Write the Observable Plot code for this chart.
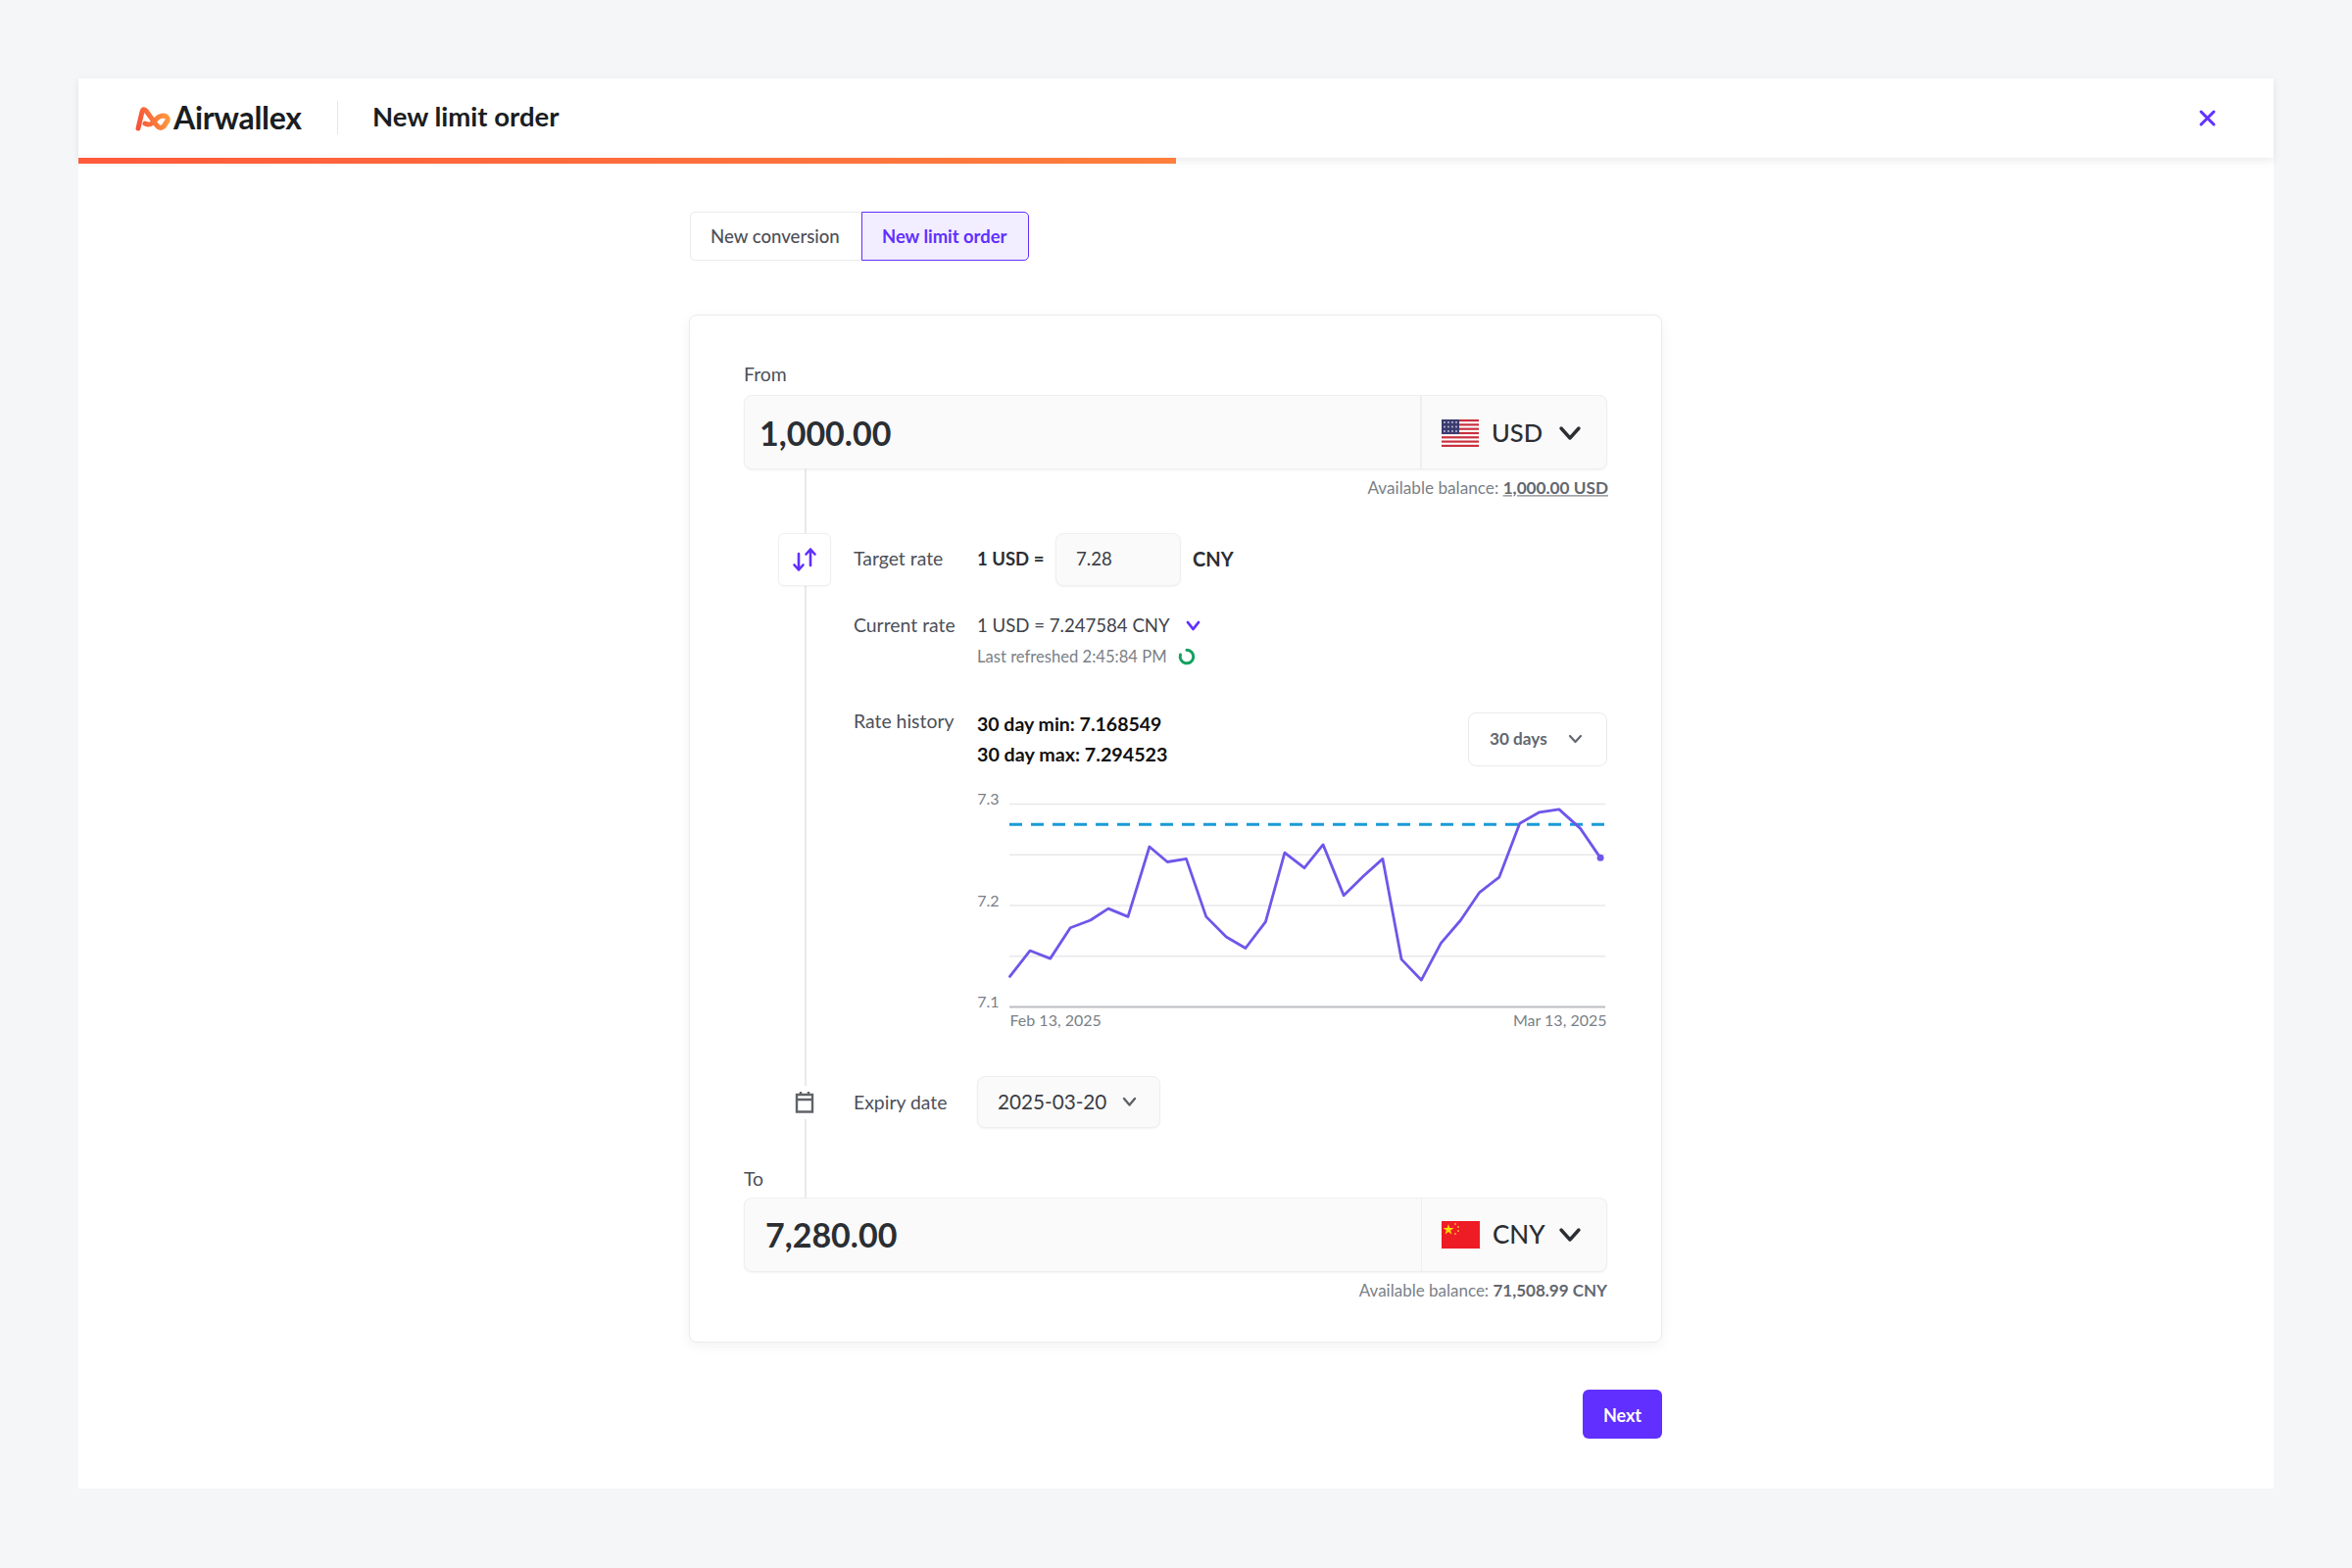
<!DOCTYPE html>
<html>
<head>
<meta charset="utf-8">
<script src="https://cdn.jsdelivr.net/npm/d3@7"></script>
<script src="https://cdn.jsdelivr.net/npm/@observablehq/plot@0.6"></script>
<style>
html,body{margin:0;padding:0;width:2400px;height:1600px;overflow:hidden;background:#f5f6f8;font-family:"Lato","Inter",sans-serif;color:#2b2e33}
.b{position:absolute;box-sizing:border-box}
.t{position:absolute;white-space:nowrap;line-height:1;transform:translateY(-50%)}
.field{background:#fafafa;border:1.5px solid #eeeff0;border-radius:8px;box-shadow:0 1px 2px rgba(0,0,0,.05)}
.lab{font-size:19.4px;color:#4c5059}
svg.i{position:absolute;overflow:visible}
#chart{position:absolute;left:980px;top:799.5px}
</style>
</head>
<body>
<div class="b" style="left:80px;top:80px;width:2240px;height:1439px;background:#fff"></div>
<div class="b" style="left:80px;top:80px;width:2240px;height:81px;background:#fff;box-shadow:0 3px 8px rgba(0,0,0,.08)"></div>
<div class="b" style="left:80px;top:161px;width:1120px;height:6px;background:linear-gradient(90deg,#ff5a3c,#ff7f3c)"></div>

<svg class="i" style="left:136px;top:106px" width="42" height="30" viewBox="0 0 42 30">
<defs><linearGradient id="lg" gradientUnits="userSpaceOnUse" x1="3" y1="20" x2="37" y2="14"><stop offset="0" stop-color="#f4503a"/><stop offset="1" stop-color="#ff9a3c"/></linearGradient></defs>
<path d="M5,25 L9,8 Q10,4 13,7 L24,22 Q27,26 31,23 L35,17 Q36,13 31,12 Q27,12 24,15 L19,20 Q16,22 12,20" fill="none" stroke="url(#lg)" stroke-width="5" stroke-linecap="round" stroke-linejoin="round"/>
</svg>
<div class="t" style="left:177px;top:120px;font-size:32px;font-weight:700;color:#1a1d21;letter-spacing:-.3px">Airwallex</div>
<div class="b" style="left:344px;top:103px;width:1px;height:34px;background:#e6e7e9"></div>
<div class="t" style="left:380px;top:119px;font-size:27.5px;font-weight:700;color:#1a1d21">New limit order</div>
<svg class="i" style="left:2245px;top:113px" width="15" height="15" viewBox="0 0 15 15"><path d="M1,1L14,14M14,1L1,14" stroke="#612fff" stroke-width="3" stroke-linecap="round"/></svg>

<div class="b" style="left:704px;top:216px;width:176px;height:50px;background:#fff;border:1.5px solid #e9eaec;border-radius:5px 0 0 5px"></div>
<div class="t" style="left:725px;top:241px;font-size:18.6px;color:#4c5059;font-weight:500">New conversion</div>
<div class="b" style="left:879px;top:216px;width:171px;height:50px;background:#f2eeff;border:1.5px solid #612fff;border-radius:0 5px 5px 0"></div>
<div class="t" style="left:900px;top:241px;font-size:18.4px;color:#612fff;font-weight:700">New limit order</div>

<div class="b" style="left:703px;top:321px;width:993px;height:1049px;background:#fff;border:1.5px solid #eaebed;border-radius:8px;box-shadow:0 4px 14px rgba(0,0,0,.05)"></div>

<div class="b" style="left:821px;top:479px;width:1.5px;height:744px;background:#e8e9eb"></div>

<div class="t lab" style="left:759px;top:381.5px">From</div>
<div class="b field" style="left:759px;top:403px;width:881px;height:76px"></div>
<div class="b" style="left:1449px;top:404px;width:1.5px;height:74px;background:#eeeff0"></div>
<div class="t" style="left:775px;top:441.5px;font-size:34px;font-weight:700;color:#2b2e33">1,000.00</div>
<svg class="i" style="left:1471px;top:428px" width="38" height="28" viewBox="0 0 38 28">
<rect width="38" height="28" fill="#fff"/>
<g fill="#c8313e"><rect y="0" width="38" height="2.2"/><rect y="4.3" width="38" height="2.2"/><rect y="8.6" width="38" height="2.2"/><rect y="12.9" width="38" height="2.2"/><rect y="17.2" width="38" height="2.2"/><rect y="21.5" width="38" height="2.2"/><rect y="25.8" width="38" height="2.2"/></g>
<rect width="18" height="15" fill="#3c3b6e"/>
<g fill="#c7cbe6"><circle cx="3" cy="3" r=".9"/><circle cx="7" cy="3" r=".9"/><circle cx="11" cy="3" r=".9"/><circle cx="15" cy="3" r=".9"/><circle cx="3" cy="7.5" r=".9"/><circle cx="7" cy="7.5" r=".9"/><circle cx="11" cy="7.5" r=".9"/><circle cx="15" cy="7.5" r=".9"/><circle cx="3" cy="12" r=".9"/><circle cx="7" cy="12" r=".9"/><circle cx="11" cy="12" r=".9"/><circle cx="15" cy="12" r=".9"/></g>
</svg>
<div class="t" style="left:1522px;top:441.5px;font-size:25.5px;font-weight:500;color:#2b2e33">USD</div>
<svg class="i" style="left:1591px;top:435px" width="22" height="14" viewBox="0 0 22 14"><path d="M2,2L11,12L20,2" fill="none" stroke="#2b2e33" stroke-width="3.4" stroke-linecap="round" stroke-linejoin="round"/></svg>
<div class="t" style="right:759px;top:498px;font-size:17.2px;color:#7a7f87">Available balance: <span style="font-weight:700;color:#63676f;text-decoration:underline">1,000.00 USD</span></div>

<div class="b" style="left:794px;top:544px;width:54px;height:54px;background:#fff;border:1.5px solid #eeeff0;border-radius:6px;box-shadow:0 1px 2px rgba(0,0,0,.04)"></div>
<svg class="i" style="left:809px;top:558px" width="24" height="26" viewBox="0 0 24 26"><path d="M6,7V23M1.5,18.5L6,23.5L10.5,18.5M18,19V3M13.5,7.5L18,2.5L22.5,7.5" fill="none" stroke="#612fff" stroke-width="2.6" stroke-linecap="round" stroke-linejoin="round"/></svg>
<div class="t lab" style="left:871px;top:570px">Target rate</div>
<div class="t" style="left:997px;top:569.5px;font-size:18.5px;font-weight:700;color:#2b2e33">1 USD =</div>
<div class="b field" style="left:1077px;top:544px;width:128px;height:54px"></div>
<div class="t" style="left:1098px;top:569.5px;font-size:18.6px;color:#3a3d43">7.28</div>
<div class="t" style="left:1217px;top:569.5px;font-size:20px;font-weight:700;color:#2b2e33">CNY</div>

<div class="t lab" style="left:871px;top:638px">Current rate</div>
<div class="t" style="left:997px;top:638px;font-size:18.6px;color:#3f434a">1 USD = 7.247584 CNY</div>
<svg class="i" style="left:1210px;top:633px" width="15" height="11" viewBox="0 0 15 11"><path d="M2,2L7.5,9L13,2" fill="none" stroke="#612fff" stroke-width="2.8" stroke-linecap="round" stroke-linejoin="round"/></svg>
<div class="t" style="left:997px;top:670px;font-size:16.6px;color:#7a7f87">Last refreshed 2:45:84 PM</div>
<svg class="i" style="left:1202px;top:661px" width="17" height="18" viewBox="0 0 17 18"><path d="M9,2.2A6.8,6.8,0,1,1,2.5,7" fill="none" stroke="#12a15e" stroke-width="3" stroke-linecap="round"/></svg>

<div class="t lab" style="left:871px;top:736px">Rate history</div>
<div class="t" style="left:997px;top:739px;font-size:19.5px;font-weight:700;color:#111">30 day min: 7.168549</div>
<div class="t" style="left:997px;top:769.5px;font-size:19.7px;font-weight:700;color:#111">30 day max: 7.294523</div>
<div class="b" style="left:1498px;top:727px;width:142px;height:55px;background:#fff;border:1.5px solid #e9eaec;border-radius:8px"></div>
<div class="t" style="left:1520px;top:753.5px;font-size:17.2px;font-weight:700;color:#63676f">30 days</div>
<svg class="i" style="left:1600px;top:749px" width="15" height="10" viewBox="0 0 15 10"><path d="M2,2L7.5,8L13,2" fill="none" stroke="#63676f" stroke-width="2.2" stroke-linecap="round" stroke-linejoin="round"/></svg>

<div id="chart"></div>

<div class="b" style="left:806px;top:1108px;width:32px;height:34px;background:#fff"></div>
<svg class="i" style="left:811px;top:1113px" width="20" height="23" viewBox="0 0 20 23"><path d="M2,4H18V21.5H2ZM2,9H18M6,1V5M14,1V5" fill="none" stroke="#5f6368" stroke-width="2.4"/></svg>
<div class="t lab" style="left:871px;top:1125px">Expiry date</div>
<div class="b field" style="left:997px;top:1098px;width:187px;height:53px"></div>
<div class="t" style="left:1018px;top:1124px;font-size:20.7px;color:#3a3d43">2025-03-20</div>
<svg class="i" style="left:1145px;top:1119px" width="15" height="11" viewBox="0 0 15 11"><path d="M2,2L7.5,8.5L13,2" fill="none" stroke="#5f6368" stroke-width="2.4" stroke-linecap="round" stroke-linejoin="round"/></svg>

<div class="t lab" style="left:759px;top:1203px">To</div>
<div class="b field" style="left:759px;top:1221.5px;width:881px;height:76px"></div>
<div class="b" style="left:1449.5px;top:1222.5px;width:1.5px;height:74px;background:#eeeff0"></div>
<div class="t" style="left:781px;top:1259.5px;font-size:34px;font-weight:700;color:#2b2e33">7,280.00</div>
<svg class="i" style="left:1471px;top:1246px" width="39" height="28" viewBox="0 0 39 28">
<rect width="39" height="28" fill="#ee1c25"/>
<polygon points="7,3 8.3,7 12.5,7 9.1,9.5 10.4,13.5 7,11 3.6,13.5 4.9,9.5 1.5,7 5.7,7" fill="#ffde00"/>
<g fill="#f9b233"><circle cx="14" cy="3" r="1"/><circle cx="17" cy="6" r="1"/><circle cx="17" cy="10" r="1"/><circle cx="14" cy="13" r="1"/></g>
</svg>
<div class="t" style="left:1523px;top:1259px;font-size:26px;font-weight:500;color:#2b2e33">CNY</div>
<svg class="i" style="left:1591px;top:1252.5px" width="22" height="14" viewBox="0 0 22 14"><path d="M2,2L11,12L20,2" fill="none" stroke="#2b2e33" stroke-width="3.4" stroke-linecap="round" stroke-linejoin="round"/></svg>
<div class="t" style="right:760px;top:1316px;font-size:17px;color:#7a7f87">Available balance: <span style="font-weight:700;color:#63676f">71,508.99 CNY</span></div>

<div class="b" style="left:1615px;top:1418px;width:81px;height:50px;background:#612fff;border-radius:6px"></div>
<div class="t" style="left:1615px;width:81px;text-align:center;top:1443.5px;font-size:18px;font-weight:700;color:#fff">Next</div>

<script>
// Rate history: position along the time axis and rate at each plotted point
const steps = [0,1.02,2.05,3.07,4.09,5.0,6.0,7.09,8.0,8.96,9.97,10.99,11.97,12.99,13.96,14.96,15.91,16.96,17.96,18.94,19.89,20.9,21.9,22.9,23.86,24.86,25.9,26.9,27.9,28.98,30];
const rates = [7.130,7.1555,7.1477,7.178,7.1855,7.197,7.189,7.258,7.243,7.246,7.189,7.169,7.158,7.184,7.252,7.237,7.26,7.21,7.229,7.246,7.147,7.1265,7.163,7.1855,7.213,7.228,7.281,7.292,7.2948,7.276,7.247];
const targetRate = [7.28];
const gridValues = [7.3,7.25,7.2,7.15];
const yTicks = [7.3,7.2,7.1];
const baseline = [7.1];
const xTickLabels = ["Feb 13, 2025","Mar 13, 2025"];
const xEnd = 30.27;
const points = steps.map((s,i)=>({s,r:rates[i]}));
const labelFont = {fontSize:16, fill:"#7a7f87"};

const chart = Plot.plot({
  width:680, height:260,
  marginLeft:50, marginRight:22, marginTop:20, marginBottom:33,
  style:{background:"transparent",fontFamily:"Lato,Inter,sans-serif"},
  x:{domain:[0,xEnd],label:null},
  y:{domain:[7.1,7.3],label:null},
  marks:[
    Plot.ruleY(gridValues,{stroke:"#e7e8ea",strokeWidth:1.5}),
    Plot.ruleY(baseline,{stroke:"#bcbec2",strokeWidth:2}),
    Plot.ruleY(targetRate,{stroke:"#1a9bd7",strokeWidth:3,strokeDasharray:"13 9"}),
    Plot.line(points,{x:"s",y:"r",stroke:"#6f56ea",strokeWidth:2.8,curve:"linear"}),
    Plot.dot(points.slice(-1),{x:"s",y:"r",r:3.5,fill:"#6f56ea"}),
    Plot.axisY({ticks:yTicks,tickFormat:d=>d.toFixed(1),tickSize:0,tickPadding:11,dy:-4.5,label:null,...labelFont}),
    Plot.axisX({ticks:[0],tickFormat:()=>xTickLabels[0],textAnchor:"start",tickSize:0,tickPadding:8,label:null,...labelFont}),
    Plot.axisX({ticks:[xEnd],tickFormat:()=>xTickLabels[1],textAnchor:"end",tickSize:0,tickPadding:8,dx:1,label:null,...labelFont})
  ]
});
document.getElementById("chart").appendChild(chart);
</script>
</body>
</html>
